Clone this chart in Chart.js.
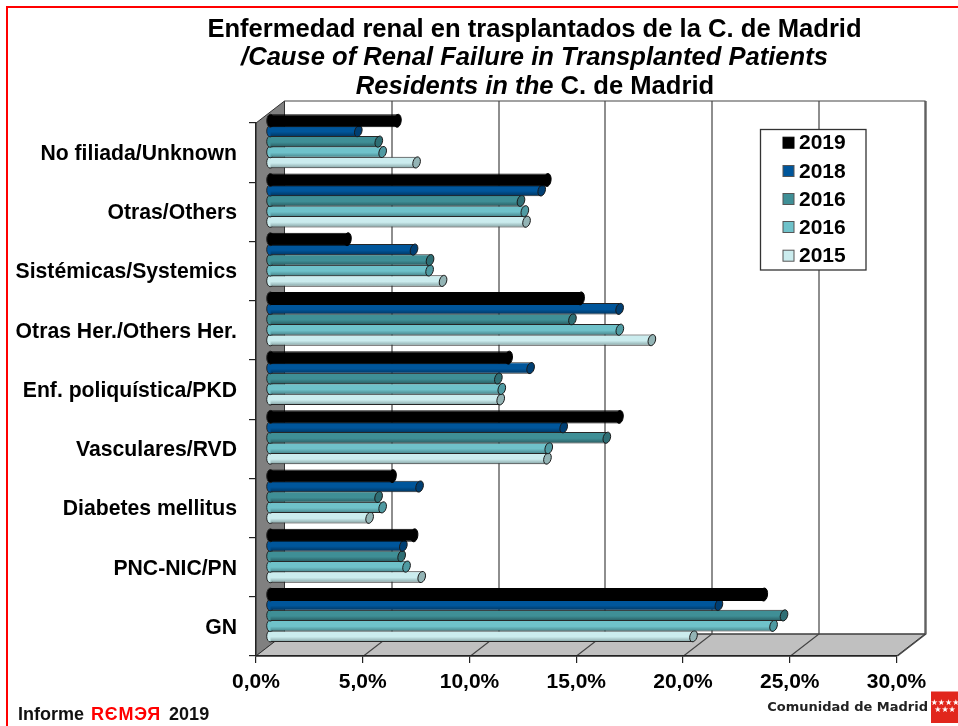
<!DOCTYPE html>
<html>
<head>
<meta charset="utf-8">
<style>html,body{margin:0;padding:0;background:#fff}canvas{display:block}</style>
<script src="https://cdn.jsdelivr.net/npm/chart.js@4"></script>
</head>
<body>
<canvas id="c" width="958" height="726"></canvas>
<script>
const categories = ["No filiada/Unknown","Otras/Others","Sistémicas/Systemics","Otras Her./Others Her.","Enf. poliquística/PKD","Vasculares/RVD","Diabetes mellitus","PNC-NIC/PN","GN"];
const seriesNames = ["2019","2018","2016","2016","2015"];
const v2019 = [5.99,13.01,3.65,14.57,11.2,16.39,5.76,6.77,23.15];
const v2018 = [4.15,12.74,6.76,16.39,12.22,13.77,7.02,6.26,21.04];
const v2016a = [5.11,11.77,7.51,14.18,10.71,15.79,5.1,6.18,24.09];
const v2016b = [5.29,11.95,7.49,16.4,10.87,13.07,5.29,6.41,23.6];
const v2015 = [6.88,12.03,8.12,17.9,10.82,13.01,4.68,7.12,19.85];
const seriesValues = [v2019,v2018,v2016a,v2016b,v2015];
const baseColors = ["#000000","#00569B","#3F8F96","#6FC2CA","#CBECEE"];
const darkColors = ["#000000","#00335C","#27595E","#437F85","#82A0A1"];
const capColors = ["#000000","#003F73","#2E6E74","#4F9AA2","#93B4B5"];
const barPcts = [1.25,1.1,1.1,1.1,1.1];
const xTicks = [0,5,10,15,20,25,30];

const FONT = '"Liberation Sans", Arial, sans-serif';
const CAT_PCT = 0.88, DX = 28.5, DY = 22, BAR_DX = 13.7, BAR_DY = -11, CAP_RX = 3.6;

function cylinderFill(c) {
  const chart = c.chart, y = chart.scales.y, i = c.datasetIndex;
  if (!y || !y.height || c.dataIndex === undefined) return baseColors[i];
  if (i === 0) return "#000";
  const total = (y.height / categories.length) * CAT_PCT, slot = total / 5;
  const center = y.getPixelForValue(c.dataIndex) - total / 2 + slot * (i + 0.5);
  const half = slot * barPcts[i] / 2;
  const g = chart.ctx.createLinearGradient(0, center - half, 0, center + half);
  g.addColorStop(0, baseColors[i]);
  g.addColorStop(0.55, baseColors[i]);
  g.addColorStop(1, darkColors[i]);
  return g;
}

function ellipse(ctx, x, y, ry, rot, fill, stroke) {
  ctx.beginPath();
  ctx.ellipse(x, y, CAP_RX, ry, rot, 0, Math.PI * 2);
  ctx.fillStyle = fill; ctx.fill();
  ctx.lineWidth = 1; ctx.strokeStyle = stroke; ctx.stroke();
}

const wallsPlugin = {
  id: "walls",
  beforeDraw(chart) {
    const { ctx, scales: { x, y } } = chart;
    const l = x.getPixelForValue(0), r = x.getPixelForValue(30), t = y.top, b = y.bottom;
    ctx.save();
    ctx.fillStyle = "#fff"; ctx.fillRect(0, 0, chart.width, chart.height);
    // red frame
    ctx.fillStyle = "#FF0000";
    ctx.fillRect(6, 6, 952, 2);
    ctx.fillRect(6, 6, 2, 720);
    // left wall
    ctx.fillStyle = "#808080"; ctx.strokeStyle = "#333"; ctx.lineWidth = 1;
    ctx.beginPath(); ctx.moveTo(l, t); ctx.lineTo(l + DX, t - DY); ctx.lineTo(l + DX, b - DY); ctx.lineTo(l, b); ctx.closePath(); ctx.fill(); ctx.stroke();
    // floor
    ctx.fillStyle = "#C0C0C0";
    ctx.beginPath(); ctx.moveTo(l, b); ctx.lineTo(r, b); ctx.lineTo(r + DX, b - DY); ctx.lineTo(l + DX, b - DY); ctx.closePath(); ctx.fill(); ctx.stroke();
    // back wall grid
    ctx.strokeStyle = "#444"; ctx.lineWidth = 1.2;
    xTicks.forEach(v => {
      const p = Math.round(x.getPixelForValue(v)) + 0.5;
      ctx.beginPath();
      if (v > 0) { ctx.moveTo(p, b); ctx.lineTo(p + DX, b - DY); ctx.lineTo(p + DX, t - DY); }
      ctx.stroke();
    });
    ctx.beginPath(); ctx.moveTo(l + DX, t - DY); ctx.lineTo(r + DX, t - DY); ctx.lineTo(r + DX, b - DY); ctx.lineTo(l + DX, b - DY); ctx.stroke();
    ctx.restore();
  },
  beforeDatasetsDraw(chart) {
    chart.ctx.save();
    chart.ctx.translate(BAR_DX, BAR_DY);
  },
  beforeDatasetDraw(chart, args) {
    const i = args.index, meta = args.meta, ctx = chart.ctx;
    meta.data.forEach(el => {
      ellipse(ctx, el.base, el.y, el.height / 2, 0, i === 0 ? "#000" : baseColors[i], "#262626");
    });
  },
  afterDatasetDraw(chart, args) {
    const i = args.index, meta = args.meta, ctx = chart.ctx;
    meta.data.forEach(el => {
      ellipse(ctx, el.x, el.y, el.height / 2, i === 0 ? 0.12 : 0.3, capColors[i], i === 0 ? "#000" : "#1a1a1a");
    });
  },
  afterDatasetsDraw(chart) {
    chart.ctx.restore();
  },
  afterDraw(chart) {
    const ctx = chart.ctx;
    ctx.save();
    // legend box
    ctx.fillStyle = "#fff"; ctx.fillRect(760.5, 129.5, 105.5, 140.5);
    ctx.strokeStyle = "#333"; ctx.lineWidth = 1.3; ctx.strokeRect(760.5, 129.5, 105.5, 140.5);
    const legY = [142.7, 171, 199, 227, 255.7];
    chart.data.datasets.forEach((d, i) => {
      ctx.fillStyle = baseColors[i]; ctx.fillRect(783, legY[i] - 5.5, 11, 11);
      ctx.strokeStyle = i === 0 ? "#000" : "#555"; ctx.lineWidth = 1; ctx.strokeRect(783, legY[i] - 5.5, 11, 11);
      ctx.fillStyle = "#000"; ctx.font = "bold 21px " + FONT;
      ctx.textAlign = "left"; ctx.textBaseline = "middle";
      ctx.fillText(d.label, 799, legY[i] + 1);
    });
    // title
    ctx.fillStyle = "#000"; ctx.textBaseline = "alphabetic"; ctx.textAlign = "center";
    ctx.font = "bold 25.6px " + FONT;
    ctx.fillText("Enfermedad renal en trasplantados de la C. de Madrid", 534.5, 37);
    ctx.font = "italic bold 25.6px " + FONT;
    ctx.fillText("/Cause of Renal Failure in Transplanted Patients", 534.5, 65);
    ctx.textAlign = "left";
    const a = "Residents in the ", bt = "C. de Madrid";
    ctx.font = "italic bold 25.6px " + FONT; const wa = ctx.measureText(a).width;
    ctx.font = "bold 25.6px " + FONT; const wb = ctx.measureText(bt).width;
    const sx = 535 - (wa + wb) / 2;
    ctx.font = "italic bold 25.6px " + FONT; ctx.fillText(a, sx, 94);
    ctx.font = "bold 25.6px " + FONT; ctx.fillText(bt, sx + wa, 94);
    // footer
    ctx.font = "bold 18px " + FONT;
    let fx = 18; const fy = 719.5;
    ctx.fillStyle = "#111"; ctx.fillText("Informe ", fx, fy); fx += ctx.measureText("Informe ").width + 2;
    ctx.letterSpacing = "0.8px";
    ctx.fillStyle = "#FF0000"; ctx.fillText("RЄMЭЯ", fx, fy); fx += ctx.measureText("RЄMЭЯ").width + 3;
    ctx.letterSpacing = "0px";
    ctx.fillStyle = "#111"; ctx.fillText(" 2019", fx, fy);
    // logo
    ctx.fillStyle = "#222"; ctx.font = 'bold 13px "DejaVu Sans", sans-serif'; ctx.textAlign = "right"; ctx.textBaseline = "middle";
    ctx.fillText("Comunidad de Madrid", 928, 708);
    ctx.fillStyle = "#E1261C"; ctx.fillRect(931, 691.5, 27, 31.5);
    ctx.fillStyle = "#fff"; ctx.font = '8px "DejaVu Sans", sans-serif'; ctx.textAlign = "center";
    ctx.fillText("★★★★", 945, 702.5);
    ctx.fillText("★★★", 945, 709.5);
    ctx.restore();
  }
};

new Chart(document.getElementById("c"), {
  type: "bar",
  data: {
    labels: categories,
    datasets: seriesValues.map((vals, i) => ({
      label: seriesNames[i],
      data: vals,
      backgroundColor: cylinderFill,
      borderColor: i === 0 ? "#000" : "#262626",
      borderWidth: { top: 1, bottom: 1, left: 0, right: 0 },
      borderSkipped: false,
      categoryPercentage: CAT_PCT,
      barPercentage: barPcts[i],
      clip: false
    }))
  },
  options: {
    indexAxis: "y",
    responsive: false,
    animation: false,
    devicePixelRatio: 1,
    layout: { padding: { top: 123, right: 61.5, left: 0, bottom: 0 } },
    plugins: { legend: { display: false }, title: { display: false }, tooltip: { enabled: false } },
    scales: {
      x: {
        type: "linear", min: 0, max: 30,
        afterFit(s) { s.height = 70; },
        afterBuildTicks(s) { s.ticks = xTicks.map(v => ({ value: v })); },
        border: { display: true, color: "#222", width: 1.5 },
        grid: { drawOnChartArea: false, drawTicks: true, tickLength: 7, color: "#222", lineWidth: 1.2 },
        ticks: {
          color: "#000", padding: 7, maxRotation: 0, autoSkip: false,
          font: { family: FONT, size: 21, weight: "bold" },
          callback: v => v.toFixed(1).replace(".", ",") + "%"
        }
      },
      y: {
        afterFit(s) { s.width = 256; },
        border: { display: true, color: "#222", width: 1.2 },
        grid: { drawOnChartArea: false, drawTicks: true, tickLength: 7, color: "#222", lineWidth: 1.2 },
        ticks: {
          color: "#000", padding: 12, autoSkip: false, labelOffset: 1.5,
          font: { family: FONT, size: 21.2, weight: "bold" }
        }
      }
    }
  },
  plugins: [wallsPlugin]
});
</script>
</body>
</html>
